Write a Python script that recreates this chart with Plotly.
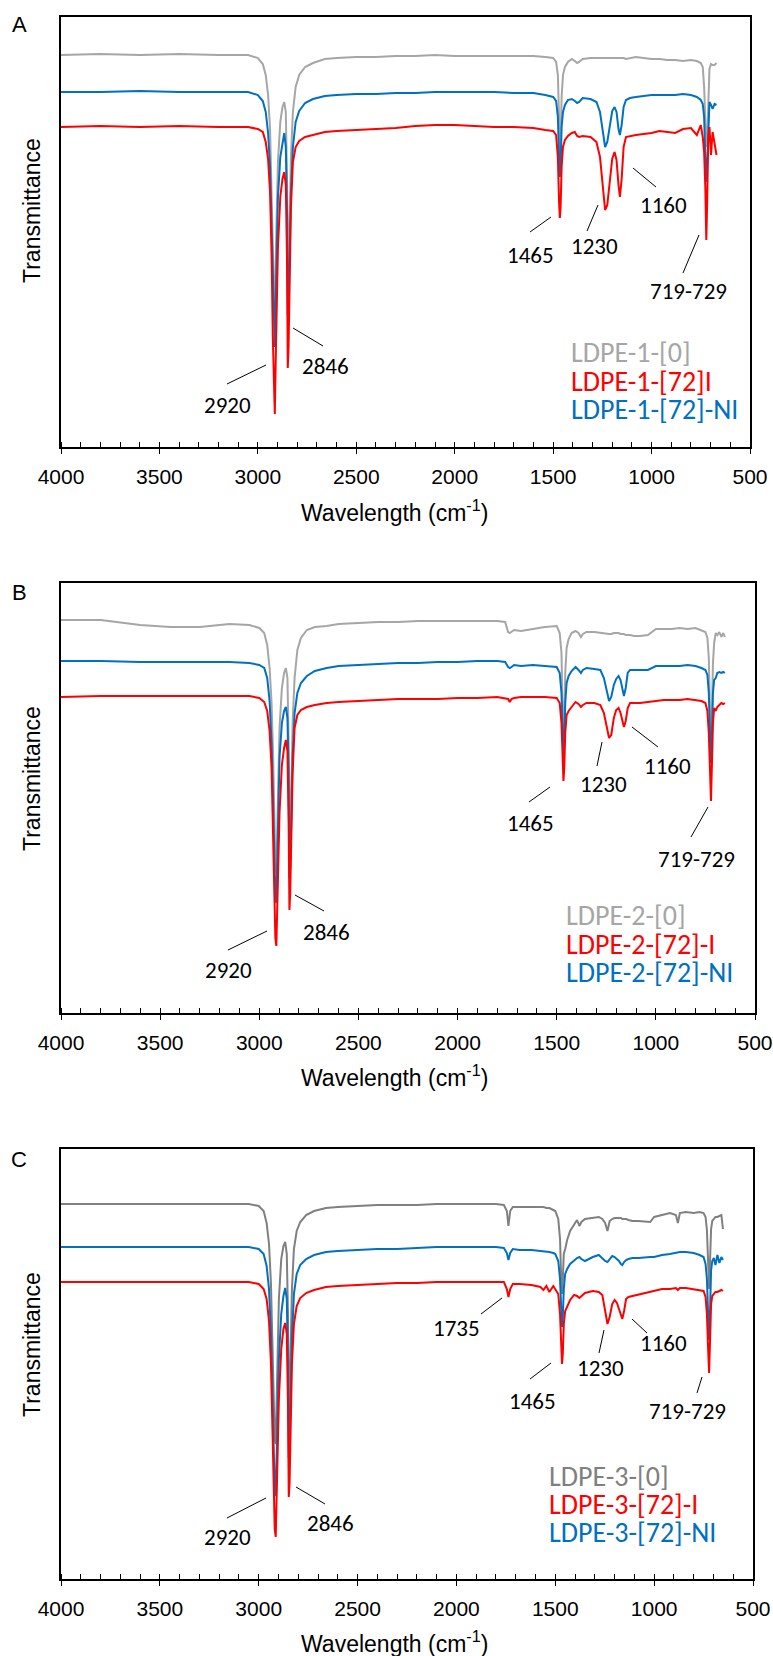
import plotly.graph_objects as go

W, H = 773, 1656

# ---------------- data (transmittance, arbitrary units; 0 = x-axis) ----------------
WN_A = [4000, 3800, 3600, 3400, 3200, 3050, 3000, 2975, 2960, 2948,
        2938, 2930, 2924, 2919, 2914, 2908, 2898, 2886, 2875, 2866,
        2858, 2852, 2848, 2844, 2839, 2832, 2822, 2808, 2790, 2760,
        2720, 2660, 2600, 2500, 2400, 2300, 2200, 2100, 2000, 1900,
        1800, 1700, 1600, 1540, 1500, 1485, 1476, 1470, 1466, 1462,
        1457, 1450, 1440, 1425, 1405, 1390, 1378, 1368, 1350, 1310,
        1280, 1262, 1248, 1236, 1225, 1212, 1200, 1188, 1178, 1168,
        1161, 1152, 1142, 1130, 1110, 1080, 1040, 1000, 960, 920,
        880, 840, 800, 770, 750, 740, 733, 727, 722, 717,
        712, 706, 698, 690, 680, 670]
GRAY_A = [392, 393, 392, 393, 392, 392, 389, 383, 372, 352,
          318, 262, 200, 150, 140, 200, 285, 325, 340, 345,
          335, 270, 175, 165, 215, 290, 335, 360, 372, 380,
          384, 388, 389, 390, 390, 391, 391, 392, 391, 391,
          391, 391, 391, 390, 389, 385, 372, 330, 290, 300,
          350, 372, 380, 385, 388, 386, 384, 385, 388, 389,
          389, 389, 389, 389, 389, 389, 389, 389, 389, 389,
          389, 389, 389, 388, 389, 390, 389, 388, 388, 387,
          387, 386, 387, 386, 384, 380, 360, 320, 300, 310,
          355, 378, 383, 382, 382, 384]
BLUE_A = [355, 355, 356, 355, 355, 355, 352, 346, 335, 314,
          280, 220, 160, 112, 100, 160, 250, 290, 306, 314,
          300, 235, 132, 140, 190, 255, 300, 325, 336, 344,
          348, 351, 352, 353, 353, 354, 354, 355, 355, 355,
          355, 354, 354, 352, 350, 346, 330, 290, 270, 280,
          320, 335, 342, 347, 348, 346, 344, 345, 349, 348,
          345, 335, 315, 300, 305, 320, 336, 340, 335, 318,
          312, 322, 340, 347, 349, 350, 351, 352, 352, 352,
          352, 353, 352, 350, 347, 343, 330, 290, 265, 285,
          325, 345, 342, 338, 343, 342]
RED_A = [320, 321, 320, 321, 320, 320, 318, 315, 305, 288,
         255, 190, 110, 50, 33, 100, 200, 250, 268, 275,
         262, 190, 79, 100, 170, 240, 285, 300, 306, 310,
         312, 315, 316, 317, 318, 319, 321, 322, 322, 321,
         320, 320, 319, 317, 316, 312, 290, 245, 229, 240,
         280, 300, 307, 311, 314, 315, 311, 310, 311, 310,
         305, 290, 262, 237, 242, 265, 288, 295, 287, 262,
         250, 268, 300, 310, 311, 312, 313, 314, 316, 315,
         314, 318, 319, 312, 322, 310, 295, 260, 207, 250,
         310, 320, 292, 315, 305, 292]

WN_B = [4000, 3800, 3600, 3450, 3300, 3150, 3050, 3000, 2975, 2960,
        2948, 2938, 2930, 2924, 2919, 2914, 2908, 2898, 2886, 2875,
        2866, 2858, 2852, 2848, 2844, 2839, 2832, 2822, 2808, 2790,
        2760, 2720, 2660, 2600, 2500, 2400, 2300, 2200, 2100, 2000,
        1900, 1800, 1760, 1745, 1737, 1728, 1715, 1680, 1620, 1560,
        1500, 1485, 1476, 1470, 1466, 1462, 1457, 1450, 1440, 1425,
        1405, 1390, 1378, 1368, 1350, 1310, 1280, 1262, 1248, 1236,
        1225, 1212, 1200, 1188, 1178, 1168, 1161, 1152, 1142, 1130,
        1110, 1080, 1040, 1000, 960, 920, 880, 840, 800, 770,
        750, 740, 733, 727, 722, 717, 712, 706, 698, 690,
        680, 670, 660, 652]
GRAY_B = [393, 393, 388, 386, 386, 389, 388, 385, 380, 368,
          345, 310, 255, 195, 150, 140, 200, 285, 325, 340,
          345, 335, 270, 175, 165, 215, 290, 335, 363, 375,
          383, 386, 387, 389, 390, 391, 391, 392, 392, 392,
          392, 392, 391, 381, 380, 381, 383, 382, 384, 386,
          387, 380, 360, 300, 262, 290, 340, 365, 374, 380,
          382, 380, 376, 379, 381, 381, 380, 380, 379, 379,
          379, 380, 380, 380, 379, 379, 379, 378, 378, 378,
          377, 377, 378, 384, 384, 384, 385, 384, 385, 383,
          381, 375, 355, 300, 270, 300, 350, 370, 380, 378,
          381, 376, 380, 376]
BLUE_B = [352, 352, 351, 351, 351, 351, 350, 348, 345, 335,
          312, 270, 210, 150, 115, 110, 175, 255, 290, 302,
          306, 295, 240, 135, 145, 190, 255, 300, 320, 330,
          337, 342, 345, 347, 348, 349, 350, 350, 351, 351,
          352, 352, 351, 346, 345, 346, 348, 347, 348, 347,
          346, 340, 320, 280, 258, 270, 310, 330, 337, 342,
          346, 343, 340, 343, 345, 344, 343, 335, 322, 312,
          316, 328, 334, 337, 333, 322, 317, 325, 340, 343,
          343, 343, 343, 347, 347, 347, 347, 348, 347, 345,
          343, 338, 320, 280, 250, 280, 320, 333, 335, 340,
          341, 340, 341, 340]
RED_B = [316, 317, 317, 317, 317, 317, 317, 315, 311, 302,
         282, 245, 180, 110, 75, 67, 115, 200, 248, 265,
         273, 262, 190, 103, 120, 175, 240, 285, 298, 303,
         306, 308, 310, 311, 312, 313, 314, 314, 314, 315,
         315, 316, 315, 314, 311, 314, 315, 316, 316, 316,
         315, 310, 290, 250, 232, 245, 280, 298, 302, 306,
         311, 309, 306, 308, 310, 310, 308, 300, 288, 275,
         278, 295, 303, 305, 300, 290, 286, 292, 305, 310,
         310, 310, 311, 312, 313, 313, 313, 314, 313, 312,
         310, 302, 280, 240, 212, 250, 290, 305, 302, 306,
         308, 310, 309, 310]

WN_C = [4000, 3800, 3600, 3450, 3300, 3150, 3050, 3000, 2975, 2960,
        2948, 2938, 2930, 2924, 2919, 2914, 2908, 2898, 2886, 2875,
        2866, 2858, 2852, 2848, 2844, 2839, 2832, 2822, 2808, 2790,
        2760, 2720, 2660, 2600, 2500, 2400, 2300, 2200, 2100, 2000,
        1900, 1800, 1760, 1745, 1737, 1728, 1715, 1680, 1620, 1575,
        1560, 1545, 1530, 1510, 1500, 1485, 1476, 1470, 1466, 1462,
        1457, 1450, 1440, 1425, 1405, 1390, 1378, 1368, 1350, 1310,
        1280, 1262, 1248, 1236, 1225, 1212, 1200, 1188, 1178, 1168,
        1161, 1152, 1142, 1130, 1110, 1080, 1040, 1020, 1000, 960,
        920, 890, 880, 870, 840, 800, 770, 750, 740, 733,
        727, 722, 717, 712, 706, 698, 690, 680, 670, 660,
        652]
GRAY_C = [375, 375, 375, 375, 375, 375, 375, 373, 368, 356,
          335, 295, 240, 180, 140, 135, 200, 280, 320, 333,
          337, 325, 265, 170, 180, 230, 290, 330, 348, 357,
          364, 368, 371, 372, 373, 374, 374, 374, 375, 375,
          375, 375, 374, 368, 353, 368, 372, 372, 372, 372,
          372, 371, 371, 369, 368, 360, 340, 300, 285, 300,
          325, 330, 339, 348, 355, 359, 353, 357, 360, 361,
          362, 360, 356, 348, 358, 360, 361, 361, 361, 361,
          360, 360, 360, 359, 358, 358, 357, 357, 362, 364,
          366, 364, 356, 366, 367, 366, 367, 366, 362, 349,
          310, 290, 320, 350, 358, 360, 362, 362, 363, 364,
          350]
BLUE_C = [332, 332, 332, 332, 332, 332, 332, 330, 325, 313,
          290, 245, 180, 120, 90, 83, 140, 220, 265, 283,
          291, 280, 215, 121, 135, 180, 240, 285, 305, 314,
          320, 324, 327, 328, 329, 330, 330, 331, 332, 332,
          332, 332, 331, 326, 319, 326, 330, 329, 329, 328,
          328, 327, 327, 326, 325, 318, 300, 270, 252, 262,
          290, 305, 310, 315, 319, 321, 322, 320, 318, 322,
          324, 320, 318, 317, 320, 323, 322, 320, 318, 315,
          314, 317, 319, 320, 321, 321, 322, 322, 322, 324,
          325, 326, 326, 327, 327, 326, 324, 322, 315, 300,
          265, 239, 270, 309, 318, 321, 314, 324, 316, 322,
          319]
RED_C = [297, 297, 297, 297, 297, 297, 297, 295, 290, 280,
         258, 215, 150, 85, 50, 42, 95, 180, 230, 250,
         256, 245, 175, 82, 95, 150, 215, 255, 273, 281,
         286, 289, 292, 293, 294, 295, 296, 296, 297, 297,
         297, 297, 297, 290, 282, 290, 295, 295, 294, 292,
         289, 293, 287, 293, 290, 285, 265, 230, 215, 225,
         255, 268, 272, 279, 284, 283, 281, 283, 286, 288,
         287, 284, 268, 255, 262, 275, 279, 276, 270, 264,
         260, 268, 280, 282, 283, 284, 286, 287, 288, 290,
         290, 291, 289, 291, 291, 290, 289, 288, 282, 265,
         230, 206, 240, 275, 283, 285, 287, 287, 288, 289,
         288]

NAMES_A = ["LDPE-1-[0]", "LDPE-1-[72]I", "LDPE-1-[72]-NI"]
NAMES_B = ["LDPE-2-[0]", "LDPE-2-[72]-I", "LDPE-2-[72]-NI"]
NAMES_C = ["LDPE-3-[0]", "LDPE-3-[72]-I", "LDPE-3-[72]-NI"]
X_TICKS = [4000, 3500, 3000, 2500, 2000, 1500, 1000, 500]

# ---------------- layout constants (pixel positions) ----------------
RED = "#FF0000"
BLUE = "#0070C0"
ARIAL = "Arial, Liberation Sans, sans-serif"
CAL = "Carlito, Lato, sans-serif"

panels = [
    dict(letter="A", wn=WN_A, gray=GRAY_A, red=RED_A, blue=BLUE_A, names=NAMES_A,
         gcol="#A6A6A6", box=(61, 750, 17, 447), letter_xy=(19, 25),
         ytitle_y=211, xtitle_y=511, legend=(571, [353, 381, 409]),
         labels=[("2920", 227, 405, (227, 384, 266, 365)),
                 ("2846", 325, 366, (293, 328, 323, 346)),
                 ("1465", 530, 255, (530, 232, 551, 217)),
                 ("1230", 594, 246, (587, 231, 598, 205)),
                 ("1160", 663, 205, (633, 168, 656, 187)),
                 ("719-729", 688, 291, (683, 273, 699, 235))]),
    dict(letter="B", wn=WN_B, gray=GRAY_B, red=RED_B, blue=BLUE_B, names=NAMES_B,
         gcol="#A6A6A6", box=(61, 755, 583, 1013), letter_xy=(19, 592),
         ytitle_y=779, xtitle_y=1076, legend=(566, [915, 944, 972]),
         labels=[("2920", 228, 970, (228, 950, 267, 931)),
                 ("2846", 326, 932, (295, 895, 324, 911)),
                 ("1465", 530, 823, (529, 802, 550, 787)),
                 ("1230", 603, 784, (597, 766, 602, 742)),
                 ("1160", 667, 766, (632, 727, 658, 747)),
                 ("719-729", 696, 859, (691, 837, 708, 807))]),
    dict(letter="C", wn=WN_C, gray=GRAY_C, red=RED_C, blue=BLUE_C, names=NAMES_C,
         gcol="#808080", box=(61, 753, 1149, 1579), letter_xy=(19, 1159),
         ytitle_y=1345, xtitle_y=1642, legend=(549, [1476, 1504, 1532]),
         labels=[("2920", 227, 1537, (227, 1518, 266, 1498)),
                 ("2846", 330, 1523, (296, 1487, 325, 1504)),
                 ("1735", 456, 1328, (481, 1314, 502, 1298)),
                 ("1465", 532, 1401, (530, 1379, 551, 1363)),
                 ("1230", 600, 1368, (599, 1353, 604, 1330)),
                 ("1160", 663, 1343, (632, 1319, 647, 1333)),
                 ("719-729", 687, 1411, (697, 1393, 702, 1377))]),
]


def px(x):
    return x / W


def py(y):
    return 1 - y / H


fig = go.Figure()
annotations = []
shapes = []
layout = {}

for i, p in enumerate(panels):
    n = i + 1
    xs = "" if n == 1 else str(n)
    xref, yref = "x" + xs, "y" + xs
    for vals, col, name in ((p["gray"], p["gcol"], p["names"][0]),
                            (p["blue"], BLUE, p["names"][2]),
                            (p["red"], RED, p["names"][1])):
        assert len(vals) == len(p["wn"]), (name, len(vals), len(p["wn"]))
        fig.add_trace(go.Scatter(x=p["wn"], y=vals, mode="lines", name=name,
                                 line=dict(color=col, width=2),
                                 xaxis=xref, yaxis=yref, showlegend=False,
                                 hoverinfo="skip"))
    x0, x1, y0, y1 = p["box"]
    xdom = [px(x0), px(x1)]
    ydom = [py(y1), py(y0)]
    layout["xaxis" + xs] = dict(
        domain=xdom, anchor=yref, range=[4000, 500], tickvals=X_TICKS,
        automargin=False,
        showgrid=False, zeroline=False, showline=True, linecolor="black",
        linewidth=1.5, mirror=True, ticks="outside", ticklen=5, tickwidth=1,
        tickcolor="black", ticklabelstandoff=5,
        tickfont=dict(family=ARIAL, size=21, color="black"),
        minor=dict(ticks="inside", dtick=100, ticklen=5, tickwidth=1,
                   tickcolor="black", showgrid=False))
    layout["yaxis" + xs] = dict(
        domain=ydom, anchor=xref, range=[0, 430], showgrid=False, zeroline=False,
        automargin=False,
        showline=True, linecolor="black", linewidth=1.5, mirror=True,
        ticks="", showticklabels=False)
    # overlay axis adding the inner half of the major ticks
    ox = str(n + 3)
    layout["xaxis" + ox] = dict(
        domain=xdom, anchor=yref, overlaying=xref, range=[4000, 500],
        automargin=False,
        tickvals=X_TICKS, ticks="inside", ticklen=6, tickwidth=1,
        tickcolor="black", showticklabels=False, showline=False,
        showgrid=False, zeroline=False)

    # panel letter
    lx, ly = p["letter_xy"]
    annotations.append(dict(text=p["letter"], x=px(lx), y=py(ly), xref="paper",
                            yref="paper", showarrow=False, xanchor="center",
                            yanchor="middle",
                            font=dict(family=ARIAL, size=22, color="black")))
    # axis titles
    annotations.append(dict(text="Wavelength (cm<sup>-1</sup>)", x=px(394),
                            y=py(p["xtitle_y"]), xref="paper", yref="paper",
                            showarrow=False, xanchor="center", yanchor="middle",
                            font=dict(family=ARIAL, size=23, color="black")))
    annotations.append(dict(text="Transmittance", x=px(32), y=py(p["ytitle_y"]),
                            xref="paper", yref="paper", showarrow=False,
                            textangle=-90, xanchor="center", yanchor="middle",
                            font=dict(family=ARIAL, size=23, color="black")))
    # legend text
    lgx, lgys = p["legend"]
    for name, col, ly2 in zip(p["names"], (p["gcol"], RED, BLUE), lgys):
        annotations.append(dict(text=name, x=px(lgx - 2), y=py(ly2), xref="paper",
                                yref="paper", showarrow=False, xanchor="left",
                                yanchor="middle",
                                font=dict(family=CAL, size=28, color=col)))
    # peak labels + leader lines
    for txt, tx, ty, (ax0, ay0, ax1, ay1) in p["labels"]:
        annotations.append(dict(text=txt, x=px(tx), y=py(ty), xref="paper",
                                yref="paper", showarrow=False, xanchor="center",
                                yanchor="middle",
                                font=dict(family=CAL, size=23, color="black")))
        shapes.append(dict(type="line", xref="paper", yref="paper",
                           x0=px(ax0), y0=py(ay0), x1=px(ax1), y1=py(ay1),
                           line=dict(color="black", width=1)))

fig.update_layout(
    width=W, height=H, margin=dict(l=0, r=0, t=0, b=0),
    paper_bgcolor="white", plot_bgcolor="white", showlegend=False,
    annotations=annotations, shapes=shapes, **layout)

fig.write_html("out.html")
